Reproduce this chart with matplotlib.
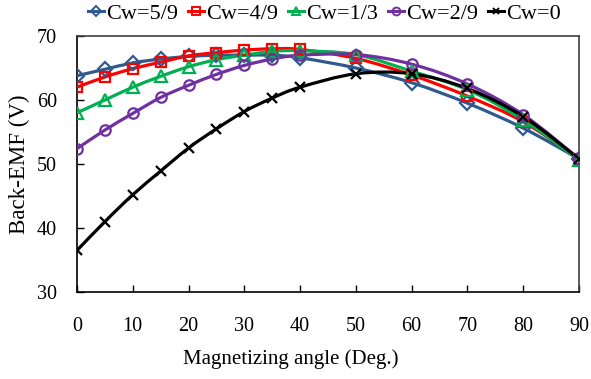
import numpy as np
import matplotlib
matplotlib.use("Agg")
import matplotlib.pyplot as plt
from matplotlib.path import Path
from matplotlib.patches import PathPatch
from matplotlib.lines import Line2D

plt.rcParams['font.family'] = ['Liberation Serif', 'DejaVu Serif']

angle = [0, 5, 10, 15, 20, 25, 30, 35, 40, 50, 60, 70, 80, 90]
cw_5_9 = [63.8, 64.8, 65.8, 66.4, 66.8, 67.0, 67.0, 67.0, 66.6, 65.0, 62.7, 59.5, 55.6, 50.8]
cw_4_9 = [62.0, 63.6, 64.9, 65.9, 66.9, 67.4, 67.8, 68.0, 67.9, 66.5, 63.9, 60.6, 56.6, 50.8]
cw_1_3 = [58.0, 60.0, 62.0, 63.7, 65.2, 66.3, 67.0, 67.6, 67.7, 67.1, 64.5, 61.6, 56.9, 50.6]
cw_2_9 = [52.4, 55.3, 57.9, 60.4, 62.3, 64.0, 65.4, 66.4, 67.0, 67.1, 65.6, 62.5, 57.7, 50.8]
cw_0 = [36.5, 41.0, 45.2, 48.9, 52.5, 55.5, 58.2, 60.3, 62.0, 64.1, 64.1, 61.8, 57.4, 50.8]

labels = ["Cw=5/9", "Cw=4/9", "Cw=1/3", "Cw=2/9", "Cw=0"]
series = [cw_5_9, cw_4_9, cw_1_3, cw_2_9, cw_0]
colors = ["#2F5A8E", "#FF0000", "#00B050", "#7030A0", "#000000"]
markers = ["D", "s", "^", "o", "x"]
msizes = [7, 7, 8.5, 7.5, 6.5]


def smooth_path(x, y, t=1/6):
    x = np.asarray(x, float); y = np.asarray(y, float)
    n = len(x)
    verts = [(x[0], y[0])]
    codes = [Path.MOVETO]
    for i in range(n - 1):
        p0 = i - 1 if i > 0 else i
        p3 = i + 2 if i + 2 < n else i + 1
        c1 = (x[i] + (x[i+1] - x[p0]) * t, y[i] + (y[i+1] - y[p0]) * t)
        c2 = (x[i+1] - (x[p3] - x[i]) * t, y[i+1] - (y[p3] - y[i]) * t)
        verts += [c1, c2, (x[i+1], y[i+1])]
        codes += [Path.CURVE4] * 3
    return Path(verts, codes)


fig = plt.figure(figsize=(5.91, 3.79), dpi=100)
ax = fig.add_axes([77/591, 1-292/379, (579-77)/591, (292-36)/379])

handles = []
for ys, lab, c, m, ms in zip(series, labels, colors, markers, msizes):
    patch = PathPatch(smooth_path(angle, ys), facecolor='none', edgecolor=c, lw=2.3, zorder=3)
    ax.add_patch(patch)
    if m == "x":
        ax.plot(angle, ys, linestyle='none', marker=m, markersize=ms, markeredgecolor=c,
                markeredgewidth=1.6, zorder=4)
    else:
        ax.plot(angle, ys, linestyle='none', marker=m, markersize=ms, markerfacecolor='none',
                markeredgecolor=c, markeredgewidth=1.6, zorder=4)
    handles.append(Line2D([], [], color=c, lw=2.2, marker=m, markersize=ms * 0.75,
                          markerfacecolor='none', markeredgecolor=c, markeredgewidth=1.4, label=lab))

ax.set_xlim(0, 90)
ax.set_ylim(30, 70)
ax.set_xticks(range(0, 91, 10))
ax.set_yticks(range(30, 71, 10))
ax.tick_params(direction='in', labelsize=14.5, length=5, width=1.0, colors='black')
ax.tick_params(axis='x', pad=18)
ax.tick_params(axis='y', pad=14.5)
for s in ['left', 'bottom']:
    ax.spines[s].set_color('black')
    ax.spines[s].set_linewidth(1.2)
for s in ['top', 'right']:
    ax.spines[s].set_color('#404040')
    ax.spines[s].set_linewidth(1.2)

ax.set_xlabel("Magnetizing angle (Deg.)", fontsize=15)
ax.xaxis.set_label_coords(0.426, -0.222)
ax.set_ylabel("Back-EMF (V)", fontsize=16.5)
ax.yaxis.set_label_coords(-0.094, 0.5)

fig.legend(handles=handles, loc='center', bbox_to_anchor=(324.5/591, 1-14/379), ncol=5,
           frameon=False, fontsize=16, handlelength=0.72, handletextpad=0.1,
           columnspacing=0.45, borderpad=0)

fig.savefig("out.png", dpi=100)
